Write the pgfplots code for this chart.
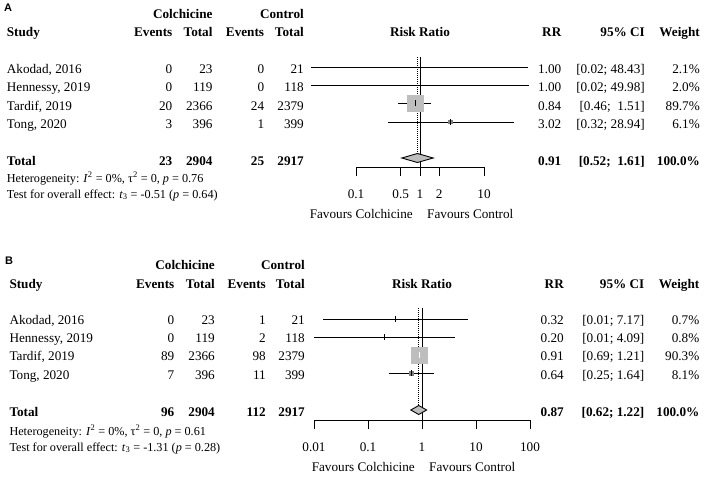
\documentclass[border=0pt]{standalone}
\usepackage{pgfplots}
\pgfplotsset{compat=1.18}
\usepackage{fontspec}
\setmainfont{Liberation Serif}
\newfontfamily\lsans{Liberation Sans}
\definecolor{boxgray}{HTML}{BEBEBE}
\newcommand\mf{\fontsize{13.2}{15}\selectfont}
\newcommand\sm{\fontsize{12.2}{14}\selectfont}
\pgfplotsset{forest/.style={scale only axis, clip=false,
  axis x line*=bottom, axis y line=none, axis line style={-, line width=0.9pt},
  xminorticks=false, minor xtick={}, tick align=outside, major tick length=9pt,
  every tick/.style={black, line width=0.9pt},
  xticklabel style={font=\mf, yshift=-10pt}}}
\begin{document}
\begin{tikzpicture}[x=1pt,y=-1pt,
  t/.style={inner sep=0pt,font=\mf},
  tb/.style={inner sep=0pt,font=\mf\bfseries},
  ts/.style={inner sep=0pt,font=\sm,anchor=base west}]
\useasboundingbox (0,0) rectangle (708,485);

%================ Panel A ================
\node[inner sep=0pt,font=\lsans\bfseries\fontsize{11}{13}\selectfont,anchor=base west] at (4,11.7) {A};
\node[tb,anchor=base east] at (212.7,18.3) {Colchicine};
\node[tb,anchor=base east] at (304,18.3) {Control};
\node[tb,anchor=base west] at (6.7,36) {Study};
\node[tb,anchor=base east] at (172.5,36) {Events};
\node[tb,anchor=base east] at (212.7,36) {Total};
\node[tb,anchor=base east] at (264.3,36) {Events};
\node[tb,anchor=base east] at (304,36) {Total};
\node[tb,anchor=base] at (420,36) {Risk Ratio};
\node[tb,anchor=base east] at (561.5,36) {RR};
\node[tb,anchor=base east] at (645,36) {95\% CI};
\node[tb,anchor=base east] at (700,36) {Weight};

\foreach \n/\a/\b/\c/\d/\r/\ci/\w [count=\i from 0] in {%
{Akodad, 2016}/0/23/0/21/1.00/{[0.02; 48.43]}/2.1\%,%
{Hennessy, 2019}/0/119/0/118/1.00/{[0.02; 49.98]}/2.0\%,%
{Tardif, 2019}/20/2366/24/2379/0.84/{[0.46;\ \ 1.51]}/89.7\%,%
{Tong, 2020}/3/396/1/399/3.02/{[0.32; 28.94]}/6.1\%}
{
  \pgfmathsetmacro\yy{73.5+18.3*\i}
  \node[t,anchor=base west] at (6.7,\yy) {\n};
  \node[t,anchor=base east] at (172.5,\yy) {\a};
  \node[t,anchor=base east] at (212.7,\yy) {\b};
  \node[t,anchor=base east] at (264.3,\yy) {\c};
  \node[t,anchor=base east] at (304,\yy) {\d};
  \node[t,anchor=base east] at (561.5,\yy) {\r};
  \node[t,anchor=base east] at (645,\yy) {\ci};
  \node[t,anchor=base east] at (700,\yy) {\w};
}
\node[tb,anchor=base west] at (6.7,165) {Total};
\node[tb,anchor=base east] at (172.5,165) {23};
\node[tb,anchor=base east] at (212.7,165) {2904};
\node[tb,anchor=base east] at (264.3,165) {25};
\node[tb,anchor=base east] at (304,165) {2917};
\node[tb,anchor=base east] at (561.5,165) {0.91};
\node[tb,anchor=base east] at (645,165) {[0.52;\ \ 1.61]};
\node[tb,anchor=base east] at (700,165) {100.0\%};
\node[ts] at (6.7,182.3) {Heterogeneity: \textit{I}\textsuperscript{2} = 0\%, τ\textsuperscript{2} = 0, \textit{p} = 0.76};
\node[ts] at (6.7,198) {Test for overall effect: \textit{t}\textsubscript{3} = -0.51 (\textit{p} = 0.64)};
\node[t,anchor=base east] at (413,218) {Favours Colchicine};
\node[t,anchor=base west] at (427,218) {Favours Control};

\begin{axis}[forest, xmode=log, at={(356pt,-167pt)}, anchor=south west, width=128pt, height=110pt,
  xmin=0.1, xmax=10, ymin=-167, ymax=-57,
  xtick={0.1,0.5,1,2,10}, xticklabels={0.1,0.5,1,2,10}]
\addplot[line width=0.9pt] coordinates {(1,-57) (1,-167)};
\addplot[line width=0.9pt, dash pattern=on 1pt off 1pt] coordinates {(0.91,-57) (0.91,-153.5)};
\addplot[line width=0.9pt] coordinates {(0.02,-67) (48.43,-67)};
\addplot[line width=0.9pt] coordinates {(0.02,-85) (49.98,-85)};
\addplot[only marks, boxgray, mark=square*, mark size=8pt, mark options={fill=boxgray, draw=boxgray, line width=0pt}] coordinates {(0.84,-103)};
\addplot[line width=0.9pt] coordinates {(0.46,-103) (1.51,-103)};
\addplot[line width=0.9pt] coordinates {(0.32,-122) (28.94,-122)};
\addplot[only marks, gray, mark=square*, mark size=1.8pt, mark options={fill=gray, draw=gray, line width=0pt}] coordinates {(3.02,-122)};
\addplot[only marks, mark=|, mark size=3pt, mark options={line width=0.9pt}] coordinates {(1,-67) (1,-85) (0.84,-103) (3.02,-122)};
\addplot[fill=boxgray, draw=black, line width=0.9pt] coordinates {(0.52,-158) (0.91,-153.5) (1.61,-158) (0.91,-162.5)} --cycle;
\end{axis}

%================ Panel B ================
\node[inner sep=0pt,font=\lsans\bfseries\fontsize{11}{13}\selectfont,anchor=base west] at (5,264) {B};
\node[tb,anchor=base east] at (215,269.3) {Colchicine};
\node[tb,anchor=base east] at (305,269.3) {Control};
\node[tb,anchor=base west] at (9.3,288) {Study};
\node[tb,anchor=base east] at (174.5,288) {Events};
\node[tb,anchor=base east] at (215,288) {Total};
\node[tb,anchor=base east] at (266,288) {Events};
\node[tb,anchor=base east] at (305,288) {Total};
\node[tb,anchor=base] at (422,288) {Risk Ratio};
\node[tb,anchor=base east] at (564,288) {RR};
\node[tb,anchor=base east] at (644.5,288) {95\% CI};
\node[tb,anchor=base east] at (699.5,288) {Weight};

\foreach \n/\a/\b/\c/\d/\r/\ci/\w [count=\i from 0] in {%
{Akodad, 2016}/0/23/1/21/0.32/{[0.01; 7.17]}/0.7\%,%
{Hennessy, 2019}/0/119/2/118/0.20/{[0.01; 4.09]}/0.8\%,%
{Tardif, 2019}/89/2366/98/2379/0.91/{[0.69; 1.21]}/90.3\%,%
{Tong, 2020}/7/396/11/399/0.64/{[0.25; 1.64]}/8.1\%}
{
  \pgfmathsetmacro\yy{324.3+18.3*\i}
  \node[t,anchor=base west] at (9.3,\yy) {\n};
  \node[t,anchor=base east] at (174.5,\yy) {\a};
  \node[t,anchor=base east] at (215,\yy) {\b};
  \node[t,anchor=base east] at (266,\yy) {\c};
  \node[t,anchor=base east] at (305,\yy) {\d};
  \node[t,anchor=base east] at (564,\yy) {\r};
  \node[t,anchor=base east] at (644.5,\yy) {\ci};
  \node[t,anchor=base east] at (699.5,\yy) {\w};
}
\node[tb,anchor=base west] at (9.3,416.7) {Total};
\node[tb,anchor=base east] at (174.5,416.7) {96};
\node[tb,anchor=base east] at (215,416.7) {2904};
\node[tb,anchor=base east] at (266,416.7) {112};
\node[tb,anchor=base east] at (305,416.7) {2917};
\node[tb,anchor=base east] at (564,416.7) {0.87};
\node[tb,anchor=base east] at (644.5,416.7) {[0.62; 1.22]};
\node[tb,anchor=base east] at (699.5,416.7) {100.0\%};
\node[ts] at (9.3,435) {Heterogeneity: \textit{I}\textsuperscript{2} = 0\%, τ\textsuperscript{2} = 0, \textit{p} = 0.61};
\node[ts] at (9.3,451) {Test for overall effect: \textit{t}\textsubscript{3} = -1.31 (\textit{p} = 0.28)};
\node[t,anchor=base east] at (415,471) {Favours Colchicine};
\node[t,anchor=base west] at (429,471) {Favours Control};

\begin{axis}[forest, xmode=log, at={(314pt,-420pt)}, anchor=south west, width=216pt, height=112pt,
  xmin=0.01, xmax=100, ymin=-420, ymax=-308,
  xtick={0.01,0.1,1,10,100}, xticklabels={0.01,0.1,1,10,100}]
\addplot[line width=0.9pt] coordinates {(1,-308) (1,-420)};
\addplot[line width=0.9pt, dash pattern=on 1pt off 1pt] coordinates {(0.87,-308) (0.87,-405.5)};
\addplot[line width=0.9pt] coordinates {(0.0147,-319) (7.17,-319)};
\addplot[line width=0.9pt] coordinates {(0.0099,-337) (4.09,-337)};
\addplot[only marks, boxgray, mark=square*, mark size=8pt, mark options={fill=boxgray, draw=boxgray, line width=0pt}] coordinates {(0.91,-355)};
\addplot[line width=0.9pt, white] coordinates {(0.69,-355) (1.21,-355)};
\addplot[only marks, white, mark=|, mark size=3pt, mark options={line width=0.9pt}] coordinates {(0.91,-355)};
\addplot[line width=0.9pt] coordinates {(0.25,-373) (1.64,-373)};
\addplot[only marks, gray, mark=square*, mark size=2pt, mark options={fill=gray, draw=gray, line width=0pt}] coordinates {(0.64,-373)};
\addplot[only marks, mark=|, mark size=3pt, mark options={line width=0.9pt}] coordinates {(0.32,-319) (0.20,-337) (0.64,-373)};
\addplot[fill=boxgray, draw=black, line width=0.9pt] coordinates {(0.62,-410) (0.87,-405.5) (1.22,-410) (0.87,-414.5)} --cycle;
\end{axis}
\end{tikzpicture}
\end{document}
